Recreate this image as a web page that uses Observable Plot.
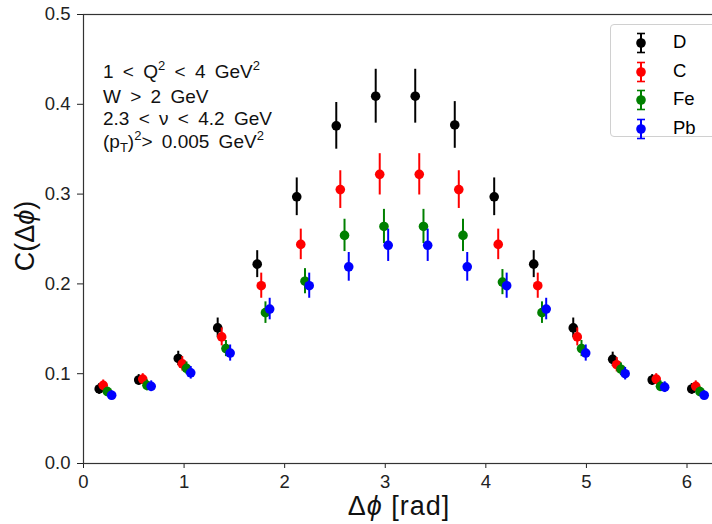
<!DOCTYPE html>
<html>
<head>
<meta charset="utf-8">
<script src="https://cdn.jsdelivr.net/npm/d3@7"></script>
<script src="https://cdn.jsdelivr.net/npm/@observablehq/plot@0.6"></script>
<style>
  html, body { margin: 0; padding: 0; background: #fff; overflow: hidden; width: 712px; height: 524px; }
  #wrap { position: relative; width: 712px; height: 524px; overflow: hidden; font-family: "Liberation Sans", Arial, sans-serif; }
  #chart { position: absolute; left: 0; top: 0; width: 740px; }
  #chart svg { overflow: visible; max-width: none !important; width: 740px; height: 524px; }
  .ann { position: absolute; left: 103px; top: 61px; font-size: 19px; line-height: 22.5px; word-spacing: 4px; color: #111; }
  .ann sup { font-size: 13px; vertical-align: 0; position: relative; top: -8px; }
  .ann sub { font-size: 13px; vertical-align: 0; position: relative; top: 4px; }
  .legend { position: absolute; left: 610px; top: 24px; width: 110px; height: 113px; border: 1px solid #d0d0d0; border-radius: 4px; background: #fff; box-sizing: border-box; }
  .legend .row { position: absolute; left: 0; height: 20px; font-size: 18.5px; }
  .legend .row svg { position: absolute; left: 20px; top: -1px; }
  .legend .row span { position: absolute; left: 62px; top: -2px; color: #000; }
  .ylab { position: absolute; left: 25px; top: 236px; transform: translate(-50%, -50%) rotate(-90deg); font-size: 27px; white-space: nowrap; color: #111; }
  .xlab { position: absolute; left: 399px; top: 491px; transform: translateX(-50%); font-size: 27px; letter-spacing: 1px; white-space: nowrap; color: #111; }
</style>
</head>
<body>
<div id="wrap">
  <div id="chart"></div>
  <div class="ann">
    <div>1 &lt; Q<sup>2</sup> &lt; 4 GeV<sup>2</sup></div>
    <div>W &gt; 2 GeV</div>
    <div>2.3 &lt; <i style="font-style:normal">ν</i> &lt; 4.2 GeV</div>
    <div>(p<sub>T</sub>)<sup>2</sup>&gt; 0.005 GeV<sup>2</sup></div>
  </div>
  <div class="legend" id="legend"></div>
  <div class="ylab">C(Δ<i>ϕ</i>)</div>
  <div class="xlab">Δ<i>ϕ</i> [rad]</div>
</div>
<script>
// Bin centres of Δφ (rad)
const phi = [0.196, 0.589, 0.982, 1.374, 1.767, 2.160, 2.553, 2.945, 3.338, 3.731, 4.123, 4.516, 4.909, 5.301, 5.694, 6.087];

// Series
const seriesNames = ["D", "C", "Fe", "Pb"];
const seriesColors = ["#000000", "#ff0000", "#008000", "#0000ff"];
const seriesOffsets = [-0.04, 0.0, 0.042, 0.084];

const valD  = [0.083, 0.093, 0.117, 0.151, 0.222, 0.297, 0.376, 0.409, 0.409, 0.377, 0.297, 0.222, 0.151, 0.116, 0.093, 0.083];
const valC  = [0.087, 0.094, 0.111, 0.141, 0.198, 0.244, 0.305, 0.322, 0.322, 0.305, 0.244, 0.198, 0.141, 0.110, 0.094, 0.086];
const valFe = [0.080, 0.087, 0.106, 0.128, 0.168, 0.203, 0.254, 0.264, 0.264, 0.254, 0.202, 0.168, 0.128, 0.105, 0.086, 0.080];
const valPb = [0.076, 0.086, 0.101, 0.123, 0.172, 0.198, 0.219, 0.243, 0.243, 0.219, 0.198, 0.172, 0.123, 0.100, 0.085, 0.076];

const errD  = [0.006, 0.006, 0.008, 0.011, 0.015, 0.021, 0.026, 0.030, 0.030, 0.026, 0.021, 0.015, 0.011, 0.008, 0.006, 0.006];
const errC  = [0.006, 0.006, 0.008, 0.010, 0.014, 0.017, 0.021, 0.023, 0.023, 0.021, 0.017, 0.014, 0.010, 0.008, 0.006, 0.006];
const errFe = [0.005, 0.006, 0.007, 0.009, 0.012, 0.014, 0.018, 0.019, 0.019, 0.018, 0.014, 0.012, 0.009, 0.007, 0.006, 0.005];
const errPb = [0.005, 0.006, 0.007, 0.009, 0.012, 0.014, 0.016, 0.018, 0.018, 0.016, 0.014, 0.012, 0.009, 0.007, 0.006, 0.005];

const yTicks = [0.0, 0.1, 0.2, 0.3, 0.4, 0.5];
const xTicks = [0, 1, 2, 3, 4, 5, 6];

const allVals = [valD, valC, valFe, valPb];
const allErrs = [errD, errC, errFe, errPb];

const marks = [];
seriesNames.forEach((name, s) => {
  const rows = phi.map((p, i) => ({
    x: p + seriesOffsets[s],
    y: allVals[s][i],
    lo: allVals[s][i] - allErrs[s][i],
    hi: allVals[s][i] + allErrs[s][i]
  }));
  marks.push(Plot.ruleX(rows, {x: "x", y1: "lo", y2: "hi", stroke: seriesColors[s], strokeWidth: 2}));
  marks.push(Plot.dot(rows, {x: "x", y: "y", r: 4.8, fill: seriesColors[s], stroke: "none"}));
});

const plot = Plot.plot({
  width: 740,
  height: 524,
  marginLeft: 83,
  marginRight: 25,
  marginTop: 14,
  marginBottom: 61,
  style: {fontFamily: "'Liberation Sans', Arial, sans-serif", fontSize: "18.5px", color: "#222", background: "white", maxWidth: "none"},
  x: {domain: [0, 2 * Math.PI], ticks: xTicks, tickFormat: d => d3.format("d")(d), tickSize: 5, tickPadding: 6, label: null},
  y: {domain: [0, 0.5], ticks: yTicks, tickFormat: d => d3.format(".1f")(d), tickSize: 6, tickPadding: 7, label: null},
  marks: [
    Plot.frame({stroke: "#333", strokeWidth: 1.2}),
    ...marks
  ]
});
document.getElementById("chart").appendChild(plot);

// Legend
const legend = document.getElementById("legend");
seriesNames.forEach((name, s) => {
  const row = document.createElement("div");
  row.className = "row";
  row.style.top = (8 + s * 28.5) + "px";
  const c = seriesColors[s];
  row.innerHTML = `<svg width="20" height="22" viewBox="0 0 20 22">
      <line x1="10" y1="1.5" x2="10" y2="20.5" stroke="${c}" stroke-width="2"/>
      <line x1="6" y1="1.5" x2="14" y2="1.5" stroke="${c}" stroke-width="1.6"/>
      <line x1="6" y1="20.5" x2="14" y2="20.5" stroke="${c}" stroke-width="1.6"/>
      <circle cx="10" cy="11" r="4.8" fill="${c}"/>
    </svg><span>${name}</span>`;
  legend.appendChild(row);
});
</script>
</body>
</html>
